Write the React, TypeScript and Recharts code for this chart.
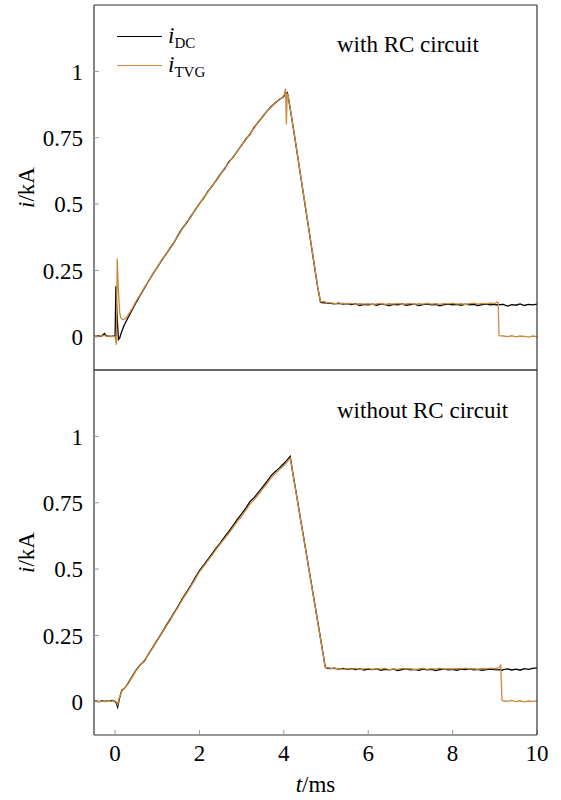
import { LineChart, Line, XAxis, YAxis } from 'recharts'

const FONT = "'Liberation Serif', 'DejaVu Serif', serif"
const DC_COLOR = '#000000'
const TVG_COLOR = '#cc8a3f'
const AXIS_COLOR = '#333333'
const TICK_COLOR = '#9a9a9a'

const xTicks = [0, 2, 4, 6, 8, 10]
const yTicks = [0, 0.25, 0.5, 0.75, 1]
const xDomain = [-0.5, 10]
const yDomain = [-0.125, 1.25]

const panelNotes = ['with RC circuit', 'without RC circuit']
const legendItems = [
  { name: 'DC', color: DC_COLOR },
  { name: 'TVG', color: TVG_COLOR },
]

// panel 1: with RC circuit  (t in ms, i in kA)
const tWith = [
  -0.5, -0.45, -0.4, -0.35, -0.3, -0.25, -0.2, -0.15, -0.1, -0.05, 0,
  0.02, 0.03, 0.05, 0.08, 0.11, 0.14, 0.2, 0.25, 0.3, 0.4, 0.5,
  0.6, 0.7, 0.8, 0.9, 1.0, 1.1, 1.2, 1.3, 1.4, 1.5, 1.6, 1.7, 1.8, 1.9, 2.0, 2.1, 2.2, 2.3, 2.4, 2.5,
  2.6, 2.7, 2.8, 2.9, 3.0, 3.1, 3.2, 3.3, 3.4, 3.5, 3.6, 3.7, 3.8, 3.9, 4.0,
  4.04, 4.06, 4.08, 4.1,
  4.2, 4.3, 4.4, 4.5, 4.6, 4.7, 4.8, 4.87, 4.95,
  5.0, 5.1, 5.2, 5.3, 5.4, 5.5, 5.6, 5.7, 5.8, 5.9,
  6.0, 6.1, 6.2, 6.3, 6.4, 6.5, 6.6, 6.7, 6.8, 6.9,
  7.0, 7.1, 7.2, 7.3, 7.4, 7.5, 7.6, 7.7, 7.8, 7.9,
  8.0, 8.1, 8.2, 8.3, 8.4, 8.5, 8.6, 8.7, 8.8, 8.9,
  9.0,
  9.05, 9.08, 9.1,
  9.2, 9.3, 9.4, 9.5, 9.6, 9.7, 9.8, 9.9, 10.0,
]
const dcWith = [
  0.003, 0.001, 0.004, 0.002, 0.006, 0.013, 0.002, 0.004, 0.001, 0.003, 0.002,
  0.19, 0.14, 0.07, -0.01, -0.004, 0.012, 0.038, 0.055, 0.07, 0.1, 0.13,
  0.158, 0.185, 0.212, 0.238, 0.262, 0.287, 0.31, 0.333, 0.356, 0.385, 0.41, 0.43, 0.455, 0.478, 0.502, 0.522, 0.548, 0.568, 0.59, 0.614,
  0.634, 0.66, 0.677, 0.7, 0.722, 0.745, 0.764, 0.79, 0.81, 0.83, 0.85, 0.868, 0.882, 0.895, 0.905,
  0.915, 0.918, 0.92, 0.908,
  0.812, 0.708, 0.604, 0.5, 0.396, 0.292, 0.188, 0.13, 0.128,
  0.128, 0.126, 0.124, 0.127, 0.123, 0.125, 0.121, 0.124, 0.118, 0.122,
  0.12, 0.123, 0.119, 0.124, 0.121, 0.118, 0.122, 0.12, 0.124, 0.119,
  0.121, 0.123, 0.118, 0.121, 0.124, 0.12, 0.122, 0.117, 0.121, 0.123,
  0.12, 0.122, 0.119, 0.123, 0.12, 0.122, 0.118, 0.121, 0.123, 0.12,
  0.122,
  0.12, 0.123, 0.121,
  0.122, 0.116, 0.121, 0.119, 0.124, 0.118, 0.122, 0.12, 0.123,
]
const tvgWith = [
  0.002, 0.004, 0.0, 0.005, 0.003, 0.006, 0.001, 0.004, 0.002, 0.003, 0.0,
  -0.02, -0.03, 0.295, 0.17, 0.09, 0.07, 0.064, 0.07, 0.08, 0.105, 0.135,
  0.16, 0.188, 0.21, 0.24, 0.26, 0.29, 0.308, 0.336, 0.358, 0.382, 0.408, 0.433, 0.452, 0.48, 0.5, 0.525, 0.545, 0.57, 0.588, 0.612,
  0.637, 0.656, 0.68, 0.698, 0.724, 0.742, 0.767, 0.786, 0.812, 0.828, 0.852, 0.865, 0.884, 0.893, 0.908,
  0.935, 0.8, 0.915, 0.91,
  0.81, 0.71, 0.605, 0.502, 0.398, 0.294, 0.19, 0.132, 0.133,
  0.13, 0.128, 0.126, 0.123, 0.127, 0.124, 0.126, 0.122, 0.125, 0.123,
  0.125, 0.121, 0.124, 0.126, 0.122, 0.125, 0.123, 0.126, 0.122, 0.124,
  0.126, 0.122, 0.125, 0.123, 0.127, 0.123, 0.125, 0.122, 0.126, 0.124,
  0.127, 0.123, 0.125, 0.121, 0.125, 0.127, 0.123, 0.126, 0.124, 0.127,
  0.125,
  0.131, 0.128, 0.004,
  0.003, 0.001, 0.004, 0.0, 0.003, 0.002, -0.001, 0.003, 0.001,
]

// panel 2: without RC circuit
const tWithout = [
  -0.5, -0.45, -0.4, -0.35, -0.3, -0.25, -0.2, -0.15, -0.1, -0.05, 0,
  0.03, 0.06, 0.1, 0.16, 0.22, 0.3, 0.4, 0.5,
  0.6, 0.7, 0.8, 0.9, 1.0, 1.1, 1.2, 1.3, 1.4, 1.5, 1.6, 1.7, 1.8, 1.9, 2.0, 2.1, 2.2, 2.3, 2.4, 2.5,
  2.6, 2.7, 2.8, 2.9, 3.0, 3.1, 3.2, 3.3, 3.4, 3.5, 3.6, 3.7, 3.8, 3.9, 4.0, 4.1,
  4.15,
  4.2, 4.3, 4.4, 4.5, 4.6, 4.7, 4.8, 4.9, 4.98,
  5.0, 5.1, 5.2, 5.3, 5.4, 5.5, 5.6, 5.7, 5.8, 5.9,
  6.0, 6.1, 6.2, 6.3, 6.4, 6.5, 6.6, 6.7, 6.8, 6.9,
  7.0, 7.1, 7.2, 7.3, 7.4, 7.5, 7.6, 7.7, 7.8, 7.9,
  8.0, 8.1, 8.2, 8.3, 8.4, 8.5, 8.6, 8.7, 8.8, 8.9,
  9.0, 9.1,
  9.14, 9.17, 9.2,
  9.3, 9.4, 9.5, 9.6, 9.7, 9.8, 9.9, 10.0,
]
const dcWithout = [
  0.002, 0.003, 0.001, 0.002, 0.004, 0.001, 0.003, 0.002, 0.004, 0.005, 0.001,
  -0.005, -0.02, 0.01, 0.045, 0.05, 0.068, 0.095, 0.12,
  0.14, 0.155, 0.182, 0.207, 0.233, 0.258, 0.285, 0.31, 0.336, 0.362, 0.39, 0.414, 0.44, 0.468, 0.494, 0.515, 0.537, 0.558, 0.58, 0.6,
  0.622, 0.643, 0.665, 0.688, 0.708, 0.73, 0.755, 0.77, 0.79, 0.81, 0.83, 0.852, 0.868, 0.882, 0.898, 0.915,
  0.925,
  0.874, 0.78, 0.684, 0.59, 0.494, 0.4, 0.305, 0.21, 0.132,
  0.128, 0.125, 0.127, 0.123, 0.126, 0.122, 0.125, 0.121, 0.124, 0.12,
  0.123, 0.121, 0.124, 0.119, 0.122, 0.12, 0.123, 0.118, 0.121, 0.124,
  0.12, 0.122, 0.119, 0.123, 0.12, 0.122, 0.118, 0.121, 0.123, 0.12,
  0.122, 0.119, 0.123, 0.121, 0.124, 0.12, 0.122, 0.119, 0.121, 0.123,
  0.121, 0.12,
  0.122, 0.118, 0.121,
  0.124, 0.12, 0.123, 0.119, 0.125, 0.122, 0.126, 0.128,
]
const tvgWithout = [
  0.001, 0.002, 0.003, 0.0, 0.002, 0.003, 0.001, 0.003, 0.002, 0.004, 0.002,
  0.0, -0.01, 0.015, 0.04, 0.052, 0.065, 0.092, 0.118,
  0.138, 0.158, 0.18, 0.205, 0.23, 0.256, 0.282, 0.306, 0.333, 0.358, 0.386, 0.41, 0.436, 0.462, 0.49, 0.51, 0.532, 0.553, 0.575, 0.596,
  0.616, 0.636, 0.658, 0.68, 0.7, 0.722, 0.745, 0.762, 0.782, 0.802, 0.822, 0.845, 0.86, 0.876, 0.89, 0.908,
  0.918,
  0.872, 0.778, 0.682, 0.588, 0.492, 0.398, 0.302, 0.208, 0.13,
  0.13, 0.127, 0.124, 0.126, 0.122, 0.125, 0.123, 0.126, 0.121, 0.124,
  0.126, 0.122, 0.125, 0.123, 0.126, 0.121, 0.124, 0.122, 0.126, 0.123,
  0.125, 0.121, 0.124, 0.126, 0.122, 0.125, 0.123, 0.127, 0.122, 0.125,
  0.123, 0.126, 0.124, 0.127, 0.123, 0.125, 0.122, 0.126, 0.124, 0.127,
  0.125, 0.128,
  0.138, 0.006, 0.004,
  0.002, 0.005, 0.001, 0.004, 0.0, 0.003, 0.002, 0.004,
]

const toRows = (t: number[], dc: number[], tvg: number[]) =>
  t.map((v, k) => ({ t: v, dc: dc[k], tvg: tvg[k] }))

const tickFont = { fontFamily: FONT, fontSize: 23, fill: '#000' }

function YLabel({ cy }: { cy: number }) {
  const cx = 34
  return (
    <text x={cx} y={cy} transform={`rotate(-90 ${cx} ${cy})`} textAnchor="middle"
      style={{ fontFamily: FONT }} fontSize={23} fill="#000">
      <tspan fontStyle="italic">i</tspan>/kA
    </text>
  )
}

function Panel({ rows, top, height, mTop, bottomAxis }: {
  rows: { t: number; dc: number; tvg: number }[]
  top: number
  height: number
  mTop: number
  bottomAxis: boolean
}) {
  // plot area: left 94, right 537; top panel 5..370, bottom panel 370..735
  const mBottom = bottomAxis ? 0 : 9
  const xH = bottomAxis ? 65 : 1
  const plotH = height - mTop - 1 - mBottom - xH
  return (
    <div style={{ position: 'absolute', left: 0, top }}>
      <LineChart width={561} height={height} data={rows} style={{ fontFamily: FONT }}
        margin={{ top: mTop, right: 23, bottom: mBottom, left: 0 }}>
        <XAxis xAxisId="b" dataKey="t" type="number" domain={xDomain} ticks={xTicks}
          allowDataOverflow height={xH}
          tick={bottomAxis ? tickFont : false} tickSize={-5} tickMargin={15}
          tickLine={{ stroke: TICK_COLOR }} axisLine={{ stroke: AXIS_COLOR, strokeWidth: 1.2 }}
          label={bottomAxis ? {
            content: () => (
              <text x={315.5} y={432} textAnchor="middle" style={{ fontFamily: FONT }} fontSize={23} fill="#000">
                <tspan fontStyle="italic">t</tspan>/ms
              </text>
            ),
          } : undefined}
        />
        <XAxis xAxisId="top" dataKey="t" type="number" domain={xDomain} orientation="top"
          allowDataOverflow height={1} tick={false} tickLine={false}
          axisLine={{ stroke: AXIS_COLOR, strokeWidth: 1.2 }} />
        <YAxis yAxisId="l" type="number" domain={yDomain} ticks={yTicks} allowDataOverflow
          width={94} tick={tickFont} tickSize={-5} tickMargin={16}
          tickFormatter={(v: number) => String(v)}
          tickLine={{ stroke: TICK_COLOR }} axisLine={{ stroke: AXIS_COLOR, strokeWidth: 1.2 }}
          label={{ content: () => <YLabel cy={mTop + 1 + plotH / 2} /> }}
        />
        <YAxis yAxisId="r" orientation="right" type="number" domain={yDomain} ticks={yTicks}
          allowDataOverflow width={1} tick={false} tickSize={-5}
          tickLine={{ stroke: TICK_COLOR }} axisLine={{ stroke: AXIS_COLOR, strokeWidth: 1.2 }} />
        <Line xAxisId="b" yAxisId="l" type="linear" dataKey="dc" stroke={DC_COLOR}
          strokeWidth={1.3} dot={false} isAnimationActive={false} />
        <Line xAxisId="b" yAxisId="l" type="linear" dataKey="tvg" stroke={TVG_COLOR}
          strokeWidth={1.3} dot={false} isAnimationActive={false} />
      </LineChart>
    </div>
  )
}

export default function App() {
  return (
    <div style={{ position: 'absolute', left: 0, top: 0, width: 561, height: 800, background: '#fff' }}>
      <Panel rows={toRows(tWith, dcWith, tvgWith)} top={0} height={380} mTop={4} bottomAxis={false} />
      <Panel rows={toRows(tWithout, dcWithout, tvgWithout)} top={360} height={440} mTop={9} bottomAxis />

      {/* legend */}
      <div style={{ position: 'absolute', left: 117, top: 22, fontFamily: FONT, fontSize: 23, color: '#000' }}>
        {legendItems.map((s) => (
          <div key={s.name} style={{ display: 'flex', alignItems: 'center', height: 29 }}>
            <span style={{ display: 'inline-block', width: 45, borderTop: `1.3px solid ${s.color}`, marginRight: 6 }} />
            <span style={{ lineHeight: '23px' }}>
              <i>i</i>
              <span style={{ fontSize: 15, position: 'relative', top: 5 }}>{s.name}</span>
            </span>
          </div>
        ))}
      </div>

      {/* panel notes */}
      {panelNotes.map((n, k) => (
        <div key={n} style={{
          position: 'absolute', left: 337, top: 33 + k * 366, fontFamily: FONT,
          fontSize: 23, lineHeight: '23px', color: '#000', whiteSpace: 'nowrap',
        }}>{n}</div>
      ))}
    </div>
  )
}
